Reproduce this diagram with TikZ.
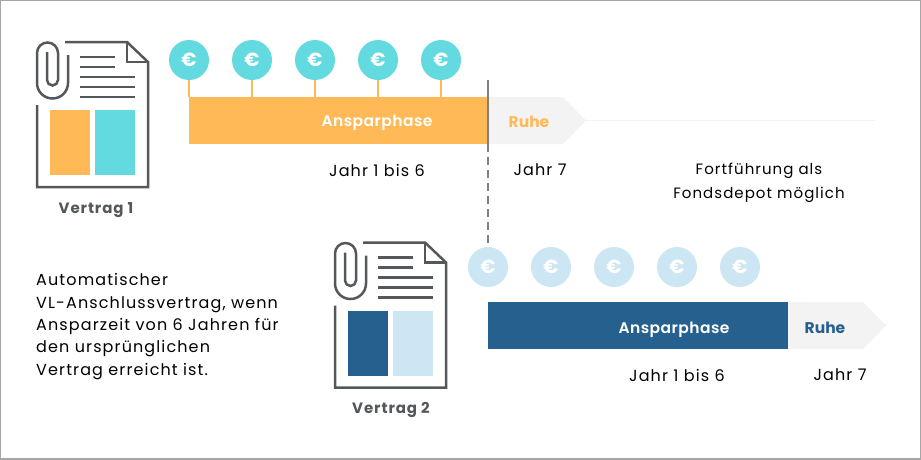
\documentclass[tikz,border=0pt]{standalone}
\usepackage{fontspec}
\setmainfont{Poppins}
\newfontfamily\bodyfont[LetterSpace=7]{Poppins}
\newfontfamily\phasefont[LetterSpace=3,BoldFont={Poppins SemiBold}]{Poppins}
\newfontfamily\labelfont[LetterSpace=6]{Poppins}
\definecolor{orangex}{HTML}{FFB957}
\definecolor{tealx}{HTML}{62DAE0}
\definecolor{navyx}{HTML}{26608F}
\definecolor{palex}{HTML}{CCE7F3}
\definecolor{greyx}{HTML}{F3F3F3}
\definecolor{inkx}{HTML}{55585A}
\definecolor{framex}{HTML}{A6A6A6}
\tikzset{
  coin/.style={circle,minimum size=40pt,inner sep=0pt,text=white,font=\fontsize{19}{19}\selectfont\bfseries},
  docline/.style={draw=inkx,line width=2.5pt,line join=miter},
  body/.style={font=\fontsize{16}{22.4}\bodyfont,text=black,inner sep=0pt},
  phase/.style={font=\fontsize{15.5}{15.5}\phasefont\bfseries,inner sep=0pt},
  ruhe/.style={font=\fontsize{15.5}{15.5}\selectfont\bfseries,inner sep=0pt},
  doclabel/.style={font=\fontsize{15}{15}\labelfont\bfseries,text=inkx,inner sep=0pt},
  pics/contract/.style n args={2}{code={
    \fill[#1] (13,68) rectangle (53,133);
    \fill[#2] (58,68) rectangle (98,133);
    \draw[docline] (28,0) -- (90,0) -- (111,20) -- (111,145) -- (0,145) -- (0,63);
    \draw[docline] (90,0) -- (90,20) -- (111,20);
    \draw[docline] (43,15) -- (78,15);
    \draw[docline] (43,25) -- (78,25);
    \draw[docline] (43,35) -- (98,35);
    \draw[docline] (43,45) -- (98,45);
    \draw[docline] (43,55) -- (98,55);
    \draw[docline,line cap=butt] (31,13) -- (31,41) arc[start angle=0,end angle=-180,x radius=15.5,y radius=-15.5]
      -- (0,11) arc[start angle=180,end angle=0,x radius=10.5,y radius=-10.5]
      -- (21,38) arc[start angle=0,end angle=-180,x radius=5.5,y radius=-5.5] -- (10,10);
  }}
}
\begin{document}
\begin{tikzpicture}[x=1pt,y=-1pt]
\useasboundingbox (0,0) rectangle (921,459);
\fill[white] (0,0) rectangle (921,459);
\draw[framex,line width=1.5pt] (0,0) rectangle (921,459);

\pic at (37,42) {contract={orangex}{tealx}};
\pic at (335,242.5) {contract={navyx}{palex}};
\node[doclabel] (v1) at (96,210.5) {Vertrag 1};
\node[doclabel] (v2) at (391,410) {Vertrag 2};

% upper timeline
\coordinate (lineEnd) at (875,120.5);
\node[fill=orangex,minimum width=300pt,minimum height=47pt,inner sep=0pt,anchor=north west] (bar1) at (188.5,97) {};
\fill[greyx] (488.5,97) -- (563,97) -- (586,120.5) -- (563,144) -- (488.5,144) -- cycle;
\coordinate (tip1) at (586,120.5);
\draw[greyx,line width=1.2pt] (tip1) -- (lineEnd);
\node[phase,text=white] (a1) at (377,123) {Ansparphase};
\node[ruhe,text=orangex] (r1) at (529,121.5) {Ruhe};
\foreach \n/\x in {a/189,b/252,c/315,d/378,e/441}{
  \node[coin,fill=tealx] (c\n) at (\x,60) {€};
  \draw[orangex,line width=1.5pt] (c\n.south) -- (\x,97);
}
\node[body] (j1) at (377,170) {Jahr 1 bis 6};
\node[body] (j2) at (540,170) {Jahr 7};
\node[body,align=center,font=\fontsize{15}{24}\bodyfont] (f) at (759,182.5) {Fortführung als\\Fondsdepot möglich};

% lower timeline
\node[coin,fill=palex] (pa) at (488,267) {€};
\node[coin,fill=palex] (pb) at (551,267) {€};
\node[coin,fill=palex] (pc) at (614,267) {€};
\node[coin,fill=palex] (pd) at (677,267) {€};
\node[coin,fill=palex] (pe) at (740,267) {€};
\coordinate (dashTop) at (488,80);
\coordinate (dashMid) at (488,144);
\draw[gray,line width=1.5pt] (dashTop) -- (dashMid);
\draw[gray,line width=1.5pt,dash pattern=on 8pt off 5pt] (dashMid) -- (pa.north);
\node[fill=navyx,minimum width=300pt,minimum height=47pt,inner sep=0pt,anchor=north west] (bar2) at (488,302) {};
\fill[greyx] (788,302) -- (863,302) -- (886,325.5) -- (863,349) -- (788,349) -- cycle;
\node[phase,text=white] (a2) at (674,330) {Ansparphase};
\node[ruhe,text=navyx] (r2) at (825,328) {Ruhe};
\node[body] (j3) at (677,375) {Jahr 1 bis 6};
\node[body] (j4) at (840,375) {Jahr 7};

\node[body,align=left,anchor=west] (txt) at (36,326.5) {Automatischer\\VL-Anschlussvertrag, wenn\\Ansparzeit von 6 Jahren für\\den ursprünglichen\\Vertrag erreicht ist.};
\end{tikzpicture}
\end{document}
